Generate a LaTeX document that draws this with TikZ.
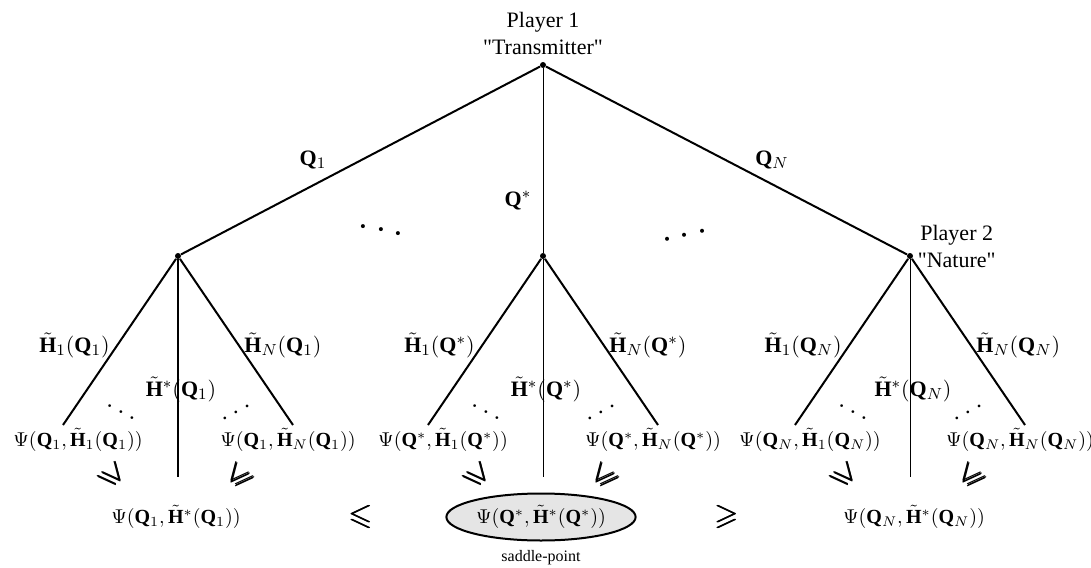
\documentclass[tikz,border=0pt]{standalone}
\usepackage{amsmath,amssymb}
\usepackage{fontspec}
\setmainfont{Liberation Serif}
\usetikzlibrary{positioning,shapes.geometric}

\newcommand{\Qv}{\mathbf{Q}}
\newcommand{\Hv}{\tilde{\mathbf{H}}}
\newcommand{\aspas}[1]{\textquotedbl#1\textquotedbl}

\tikzset{
	vtx/.style={circle,fill,inner sep=0pt,minimum size=3pt},
	ramo/.style={line width=1pt},
	fino/.style={line width=0.5pt},
	rot/.style={font=\fontsize{11}{13.5}\selectfont,inner sep=1pt},
	payoff/.style={font=\fontsize{10}{12}\selectfont,inner sep=1pt},
	sinal/.style={font=\fontsize{15}{17}\selectfont,inner sep=0pt},
	pontos/.style={font=\fontsize{14}{16}\selectfont,inner sep=0pt},
	sela/.style={ellipse,draw,line width=1pt,fill=gray!20,minimum width=74pt,minimum height=23.5pt}
}

\begin{document}
\begin{tikzpicture}[x=0.5pt,y=-0.5pt]
\useasboundingbox (0,0) rectangle (1091,567);

% Jogador 1
	\node[vtx] (r) at (543,65) {};
	\node[rot,align=center,above=2pt of r] (p1) {Player 1\\\aspas{Transmitter}};

% Jogador 2
	\foreach \x/\q/\n/\w in {178/{\Qv_1}/a/1pt, 543/{\Qv^*}/b/0.5pt, 910/{\Qv_N}/c/0.5pt}{
		\node[vtx] (p\n) at (\x,256) {};
		\coordinate (e\n) at (\x-115,425);
		\coordinate (m\n) at (\x,477);
		\coordinate (d\n) at (\x+115,425);
		\draw[ramo] (p\n) -- (e\n);
		\draw[line width=\w] (p\n) -- (m\n);
		\draw[ramo] (p\n) -- (d\n);
		\node[rot,anchor=east] (hu\n) at (\x-66,345) {$\Hv_1(\q)$};
		\node[rot] (hs\n) at (\x+3,389) {$\Hv^*(\q)$};
		\node[rot,anchor=west] (hn\n) at (\x+64,345) {$\Hv_N(\q)$};
		\node[pontos,rotate=-28] (du\n) at (\x-57,412) {$\ldots$};
		\node[pontos,rotate=28] (dn\n) at (\x+58,412) {$\ldots$};
		\node[payoff] (yu\n) at (\x-100,440) {$\Psi(\q,\Hv_1(\q))$};
		\node[payoff] (yn\n) at (\x+110,440) {$\Psi(\q,\Hv_N(\q))$};
		\node[sinal,rotate=-50] (gu\n) at (\x-65,476) {$\pmb{\geqslant}$};
		\node[sinal,rotate=50] (gn\n) at (\x+62,476) {$\pmb{\leqslant}$};
	}

	\node[rot,align=center,right=1pt of pc,yshift=5pt] (p2) {Player 2\\\aspas{Nature}};

% Estrategias do transmissor
	\draw[ramo] (r) -- (pa);
	\draw[fino] (r) -- (pb);
	\draw[ramo] (r) -- (pc);
	\node[rot] (q1) at (313,160) {$\Qv_1$};
	\node[rot] (qs) at (518,201) {$\Qv^*$};
	\node[rot] (qn) at (772,160) {$\Qv_N$};
	\node[pontos,font=\fontsize{22}{24}\selectfont,rotate=-11] (tu) at (381,230) {$\ldots$};
	\node[pontos,font=\fontsize{22}{24}\selectfont,rotate=13] (tn) at (685,235) {$\ldots$};

% Ponto de sela
	\node[payoff] (ba) at (176,517) {$\Psi(\Qv_1,\Hv^*(\Qv_1))$};
	\node[sela,payoff] (bb) at (541,517) {$\Psi(\Qv^*,\Hv^*(\Qv^*))$};
	\node[payoff] (bc) at (914,517) {$\Psi(\Qv_N,\Hv^*(\Qv_N))$};
	\node[sinal] (le) at (361,517) {$\pmb{\leqslant}$};
	\node[sinal] (ge) at (727,517) {$\pmb{\geqslant}$};
	\node[font=\fontsize{8}{10}\selectfont,inner sep=1pt,below=3pt of bb] (sp) {saddle-point};
\end{tikzpicture}
\end{document}
